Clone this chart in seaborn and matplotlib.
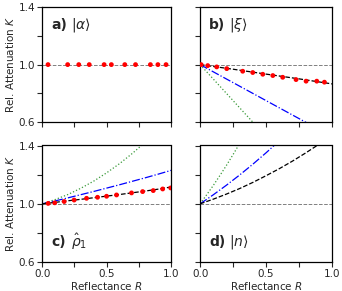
import numpy as np
import pandas as pd
import seaborn as sns
from matplotlib import pyplot as plt

sns.set_style('ticks')
plt.rcParams['font.family'] = ['DejaVu Sans']
plt.rcParams['mathtext.fontset'] = 'dejavusans'

# a) coherent state: measured points, all at K = 1
a_R = [0.046, 0.198, 0.284, 0.365, 0.48, 0.536, 0.64, 0.723, 0.838, 0.896, 0.959]
a_K = [1.0] * len(a_R)

# b) squeezed state
b_R = [0.008, 0.058, 0.126, 0.202, 0.323, 0.399, 0.475, 0.551, 0.626, 0.727, 0.803, 0.884, 0.942]
b_K = [1.0, 0.993, 0.984, 0.972, 0.954, 0.945, 0.933, 0.924, 0.912, 0.896, 0.885, 0.885, 0.878]
b_black_R = [0.0, 0.25, 0.5, 0.75, 1.0]
b_black_K = [1.0, 0.968, 0.934, 0.901, 0.866]
b_blue_R = [0.0, 0.85]
b_blue_K = [1.0, 0.575]
b_green_R = [0.0, 0.45]
b_green_K = [1.0, 0.55]

# c) rho_1
c_R = [0.047, 0.098, 0.171, 0.248, 0.344, 0.429, 0.499, 0.576, 0.692, 0.778, 0.860, 0.933, 0.995]
c_K = [1.003, 1.007, 1.016, 1.026, 1.038, 1.045, 1.052, 1.061, 1.075, 1.084, 1.091, 1.102, 1.109]
R10 = [0.0, 0.1, 0.2, 0.3, 0.4, 0.5, 0.6, 0.7, 0.8, 0.9, 1.0]
c_black_K = [1.0, 1.010, 1.021, 1.031, 1.042, 1.053, 1.064, 1.076, 1.088, 1.101, 1.116]
c_blue_K = [1.0, 1.020, 1.041, 1.063, 1.085, 1.108, 1.131, 1.155, 1.179, 1.204, 1.23]
c_green_R = [0.0, 0.1, 0.2, 0.3, 0.4, 0.5, 0.6, 0.7, 0.8]
c_green_K = [1.0, 1.029, 1.064, 1.107, 1.156, 1.213, 1.276, 1.347, 1.424]

# d) Fock state |n>
d_black_K = [1.0, 1.032, 1.067, 1.105, 1.147, 1.193, 1.241, 1.293, 1.349, 1.408, 1.47]
d_blue_R = [0.0, 0.1, 0.2, 0.3, 0.4, 0.5, 0.6]
d_blue_K = [1.0, 1.062, 1.128, 1.198, 1.272, 1.35, 1.432]
d_green_R = [0.0, 0.05, 0.1, 0.15, 0.2, 0.25, 0.3, 0.35]
d_green_K = [1.0, 1.062, 1.126, 1.194, 1.264, 1.338, 1.414, 1.494]

fig = plt.figure(figsize=(3.42, 2.91), dpi=100)
ax_a = fig.add_axes([0.123, 0.580, 0.378, 0.396])
ax_b = fig.add_axes([0.585, 0.580, 0.386, 0.396])
ax_c = fig.add_axes([0.123, 0.099, 0.378, 0.401])
ax_d = fig.add_axes([0.585, 0.099, 0.386, 0.401])


def line(ax, x, y, color, ls, lw=0.9):
    sns.lineplot(x=x, y=y, ax=ax, color=color, linestyle=ls, lw=lw, zorder=2)


def dots(ax, x, y):
    sns.scatterplot(x=x, y=y, ax=ax, color='red', s=12, edgecolor='none', zorder=4)


for ax in [ax_a, ax_b, ax_c, ax_d]:
    ax.axhline(1.0, color='gray', ls='--', lw=0.7, zorder=1)

dots(ax_a, a_R, a_K)

line(ax_b, b_green_R, b_green_K, '#3a9a3a', ':')
line(ax_b, b_blue_R, b_blue_K, 'blue', '-.')
line(ax_b, b_black_R, b_black_K, 'black', '--')
dots(ax_b, b_R, b_K)

line(ax_c, c_green_R, c_green_K, '#3a9a3a', ':')
line(ax_c, R10, c_blue_K, 'blue', '-.')
line(ax_c, R10, c_black_K, 'black', '--')
dots(ax_c, c_R, c_K)

line(ax_d, d_green_R, d_green_K, '#3a9a3a', ':')
line(ax_d, d_blue_R, d_blue_K, 'blue', '-.')
line(ax_d, R10, d_black_K, 'black', '--')

labels = {ax_a: ('a)', r'$|\alpha\rangle$', 0.84),
          ax_b: ('b)', r'$|\xi\rangle$', 0.84),
          ax_c: ('c)', r'$\hat{\rho}_1$', 0.17),
          ax_d: ('d)', r'$|n\rangle$', 0.17)}

for ax, (lab, sym, ty) in labels.items():
    ax.set_xlim(0, 1)
    ax.set_ylim(0.6, 1.4)
    ax.set_xticks([0, 0.25, 0.5, 0.75, 1.0])
    ax.set_yticks([0.6, 0.8, 1.0, 1.2, 1.4])
    ax.tick_params(labelsize=7.5, length=3.5, width=0.8, pad=1.5)
    for s in ax.spines.values():
        s.set_linewidth(0.9)
        s.set_color('black')
    ax.text(0.07, ty, lab, transform=ax.transAxes, fontsize=10,
            fontweight='bold', va='center')
    ax.text(0.22, ty, sym, transform=ax.transAxes, fontsize=10, va='center')
    ax.set_xlabel('')
    ax.set_ylabel('')

for ax in [ax_a, ax_c]:
    ax.set_yticklabels(['0.6', '', '1.0', '', '1.4'])
    ax.set_ylabel('Rel. Attenuation $K$', fontsize=7.5, labelpad=2)
for ax in [ax_b, ax_d]:
    ax.set_yticklabels([])
for ax in [ax_a, ax_b]:
    ax.set_xticklabels([])
for ax in [ax_c, ax_d]:
    ax.set_xticklabels(['0.0', '', '0.5', '', '1.0'])
    ax.set_xlabel('Reflectance $R$', fontsize=7.5, labelpad=0.5)

fig.savefig('out.png', dpi=100)
